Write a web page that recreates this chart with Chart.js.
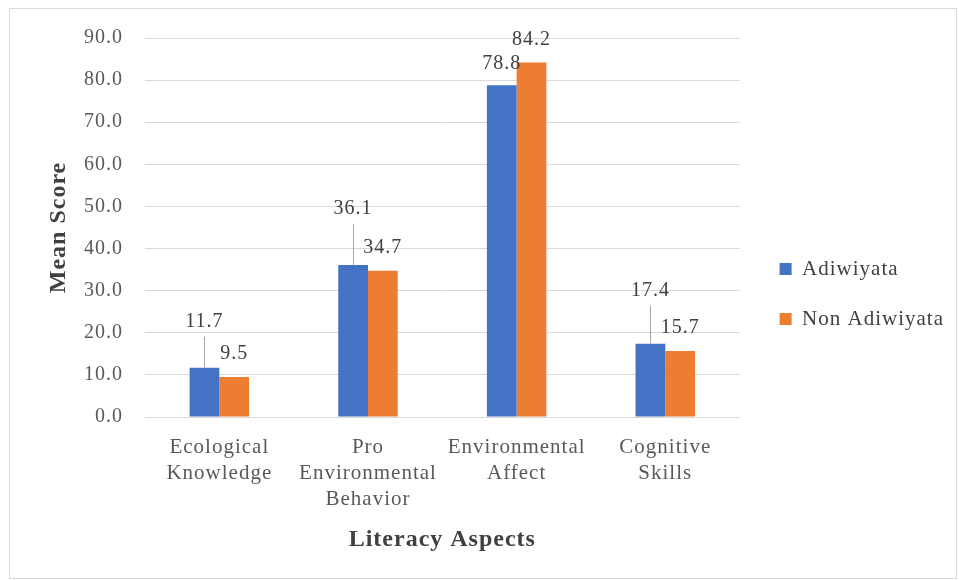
<!DOCTYPE html>
<html>
<head>
<meta charset="utf-8">
<title>Mean Score by Literacy Aspect</title>
<script src="https://cdn.jsdelivr.net/npm/chart.js@4.4.1/dist/chart.umd.min.js"></script>
<style>
  html, body { margin: 0; padding: 0; background: #fff; }
  #wrap { position: relative; width: 959px; height: 580px; }
  #frame {
    position: absolute; left: 9px; top: 8px; width: 948px; height: 571px;
    border: 1px solid #d9d9d9; box-sizing: border-box; pointer-events: none;
  }
  canvas { position: absolute; left: 0; top: 0; }
</style>
</head>
<body>
<div id="wrap">
  <canvas id="chart" width="959" height="580"></canvas>
  <div id="frame"></div>
</div>
<script>
// Chart data
const categories = [
  ['Ecological', 'Knowledge'],
  ['Pro', 'Environmental', 'Behavior'],
  ['Environmental', 'Affect'],
  ['Cognitive', 'Skills'],
];
const adiwiyata = [11.7, 36.1, 78.8, 17.4];
const nonAdiwiyata = [9.5, 34.7, 84.2, 15.7];
const scoreTicks = [0, 10, 20, 30, 40, 50, 60, 70, 80, 90];

// How far each value label sits above its bar (px) and which ones get a leader line
const labelLift = [[46, 56, 21, 53], [23, 23, 23, 23]];
const labelLeader = [[true, true, false, true], [false, false, false, false]];

const serif = '"Liberation Serif", "Times New Roman", serif';

// The source image is a bit stretched sideways, some letter spacing mimics that
const spacing = {
  id: 'spacing',
  beforeUpdate(chart) { chart.ctx.letterSpacing = '1px'; },
  beforeDraw(chart) { chart.ctx.letterSpacing = '1px'; },
};

// Excel leaves a small gap between the plot and the legend
const legendNudge = {
  id: 'legendNudge',
  afterLayout(chart) {
    chart.legend.left += 11;
    chart.legend.right += 11;
  },
};

// Value labels above the bars, some of them pulled up with a leader line
const valueLabels = {
  id: 'valueLabels',
  afterDatasetsDraw(chart) {
    const ctx = chart.ctx;
    ctx.save();
    ctx.font = '20px ' + serif;
    ctx.fillStyle = '#404040';
    ctx.textAlign = 'center';
    ctx.textBaseline = 'middle';
    ctx.strokeStyle = '#a6a6a6';
    ctx.lineWidth = 1;
    chart.data.datasets.forEach((ds, i) => {
      chart.getDatasetMeta(i).data.forEach((bar, j) => {
        const y = bar.y - labelLift[i][j];
        if (labelLeader[i][j]) {
          const lx = Math.round(bar.x) + 0.5;
          ctx.beginPath();
          ctx.moveTo(lx, bar.y);
          ctx.lineTo(lx, y + 15);
          ctx.stroke();
        }
        ctx.fillText(ds.data[j].toFixed(1), bar.x, y);
      });
    });
    ctx.restore();
  },
};

new Chart(document.getElementById('chart'), {
  type: 'bar',
  data: {
    labels: categories,
    datasets: [
      { label: 'Adiwiyata', data: adiwiyata, backgroundColor: '#4472C4' },
      { label: 'Non Adiwiyata', data: nonAdiwiyata, backgroundColor: '#ED7D31' },
    ],
  },
  options: {
    responsive: false,
    animation: false,
    categoryPercentage: 0.4,
    barPercentage: 1.0,
    layout: { padding: { left: 10, top: 38, right: 16, bottom: 30 } },
    plugins: {
      legend: {
        position: 'right',
        labels: {
          boxWidth: 12,
          boxHeight: 12,
          padding: 29,
          color: '#404040',
          font: { family: serif, size: 21 },
        },
      },
      tooltip: { enabled: false },
    },
    scales: {
      x: {
        grid: { display: false },
        border: { display: false },
        ticks: {
          color: '#595959',
          padding: 9,
          maxRotation: 0,
          autoSkip: false,
          font: { family: serif, size: 21, lineHeight: 1.24 },
        },
        title: {
          display: true,
          text: 'Literacy Aspects',
          color: '#404040',
          font: { family: serif, size: 24, weight: 'bold' },
          padding: { top: 0, bottom: -4 },
        },
        afterFit(scale) { scale.height = 133; },
      },
      y: {
        min: 0,
        max: 90,
        afterBuildTicks(scale) {
          scale.ticks = scoreTicks.map(v => ({ value: v }));
        },
        grid: { color: '#d9d9d9', drawTicks: false },
        border: { display: false },
        ticks: {
          color: '#595959',
          padding: 22,
          font: { family: serif, size: 20 },
          callback: v => v.toFixed(1),
        },
        title: {
          display: true,
          text: 'Mean Score',
          color: '#404040',
          font: { family: serif, size: 24, weight: 'bold' },
          padding: { top: 34, bottom: 0 },
        },
        afterFit(scale) { scale.width = 135; },
      },
    },
  },
  plugins: [spacing, legendNudge, valueLabels],
});
</script>
</body>
</html>
